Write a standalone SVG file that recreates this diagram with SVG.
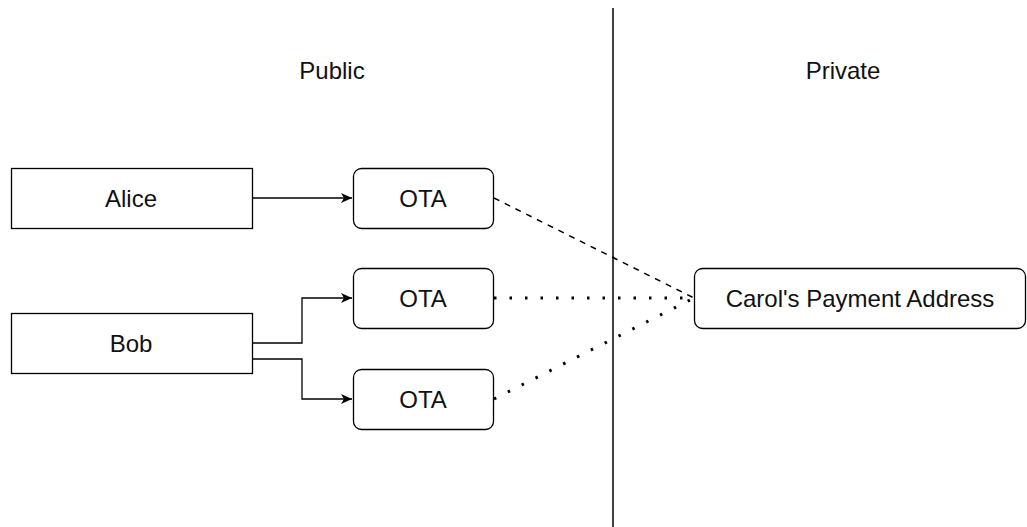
<svg xmlns="http://www.w3.org/2000/svg" width="1027" height="527" viewBox="0 0 1027 527">
<style>
.box{fill:#fff;stroke:#000;stroke-width:1.3}
.t{font-family:"Liberation Sans",Arial,sans-serif;font-size:24px;fill:#111;text-anchor:middle;dominant-baseline:central}
.c{fill:none;stroke:#000;stroke-width:1.3}
.dash{fill:none;stroke:#000;stroke-width:1.5;stroke-dasharray:6 6}
.dot{fill:none;stroke:#000;stroke-width:3;stroke-dasharray:2.5 13}
</style>
<defs>
<marker id="arr" markerWidth="12" markerHeight="10" refX="11" refY="5" orient="auto" markerUnits="userSpaceOnUse">
<path d="M0,0 L11,5 L0,10 L3,5 Z" fill="#000"/>
</marker>
</defs>
<rect width="1027" height="527" fill="#fff"/>
<g id="divider"><line x1="613" y1="8" x2="613" y2="527" stroke="#000" stroke-width="1.5"/></g>
<g id="label-public"><text class="t" x="332" y="70">Public</text></g>
<g id="label-private"><text class="t" x="843" y="70">Private</text></g>
<g id="connectors">
<path class="c" d="M253,198 L352,198" marker-end="url(#arr)"/>
<path class="c" d="M253,343 L302,343 L302,298 L352,298" marker-end="url(#arr)"/>
<path class="c" d="M253,359 L302,359 L302,399 L352,399" marker-end="url(#arr)"/>
<path class="dash" d="M494,198 L694,298"/>
<path class="dot" d="M494,298 L694,298"/>
<path class="dot" d="M494,399 L694,298"/>
</g>
<g id="alice"><rect class="box" x="11.5" y="168.5" width="241" height="60"/><text class="t" x="131" y="198">Alice</text></g>
<g id="bob"><rect class="box" x="11.5" y="313.5" width="241" height="60"/><text class="t" x="131" y="343">Bob</text></g>
<g id="ota1"><rect class="box" x="353.5" y="168.5" width="140" height="60" rx="8"/><text class="t" x="423" y="198">OTA</text></g>
<g id="ota2"><rect class="box" x="353.5" y="268.5" width="140" height="60" rx="8"/><text class="t" x="423" y="298">OTA</text></g>
<g id="ota3"><rect class="box" x="353.5" y="369.5" width="140" height="60" rx="8"/><text class="t" x="423" y="399">OTA</text></g>
<g id="carol"><rect class="box" x="694.5" y="268.5" width="331" height="60" rx="8"/><text class="t" x="860" y="298">Carol's Payment Address</text></g>
</svg>
